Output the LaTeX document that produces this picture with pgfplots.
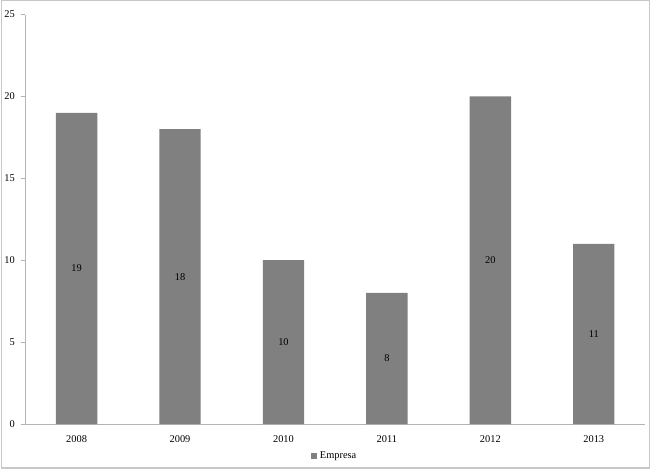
\documentclass[border=0pt]{standalone}
\usepackage{fontspec}
\setmainfont{Liberation Serif}
\usepackage{pgfplots}
\pgfplotsset{compat=1.18}
\definecolor{barfill}{HTML}{808080}
\definecolor{spine}{HTML}{B4B4B4}
\definecolor{frame}{HTML}{C8C8C8}
\begin{document}
\begin{tikzpicture}[font=\fontsize{7.8}{9}\selectfont]
\begin{axis}[
  scale only axis, width=466pt, height=307.5pt,
  xmin=-0.5, xmax=5.5, ymin=0, ymax=25,
  axis x line*=bottom, axis y line*=left,
  axis line style={spine},
  xtick={0,...,5}, xticklabels={2008,2009,2010,2011,2012,2013},
  xtick style={draw=none},
  minor xtick={-0.5,0.5,...,5.5},
  minor tick length=2.5pt, major tick length=3pt,
  tick align=outside,
  ytick={0,5,...,25},
  y tick style={spine},
  minor x tick style={spine},
  tick label style={black},
  /pgf/number format/assume math mode=true,
  yticklabel style={xshift=-1pt},
  xticklabel style={yshift=-2pt},
  legend style={at={(0.5,-0.078)}, anchor=center, draw=none, fill=none,
    legend cell align=left, inner sep=0pt},
  legend image code/.code={\fill[barfill] (0pt,-2.2pt) rectangle (4.4pt,2.2pt);},
  clip=false,
]
\addplot[ybar, bar width=0.4, fill=barfill, draw=none] coordinates {
  (0,19) (1,18) (2,10) (3,8) (4,20) (5,11)};
\addlegendentry{Empresa}
\addplot[only marks, mark=none, forget plot,
  nodes near coords, point meta=explicit symbolic,
  every node near coord/.append style={anchor=center, black}] coordinates {
  (0,9.5)[19] (1,9)[18] (2,5)[10] (3,4)[8] (4,10)[20] (5,5.5)[11]};
\coordinate (ll) at (rel axis cs:0,0);
\coordinate (ur) at (rel axis cs:1,1);
\end{axis}
\draw[frame, line width=0.8pt] ([xshift=-17.3pt,yshift=-33pt]ll) rectangle ([xshift=3pt,yshift=10.5pt]ur);
\end{tikzpicture}
\end{document}
